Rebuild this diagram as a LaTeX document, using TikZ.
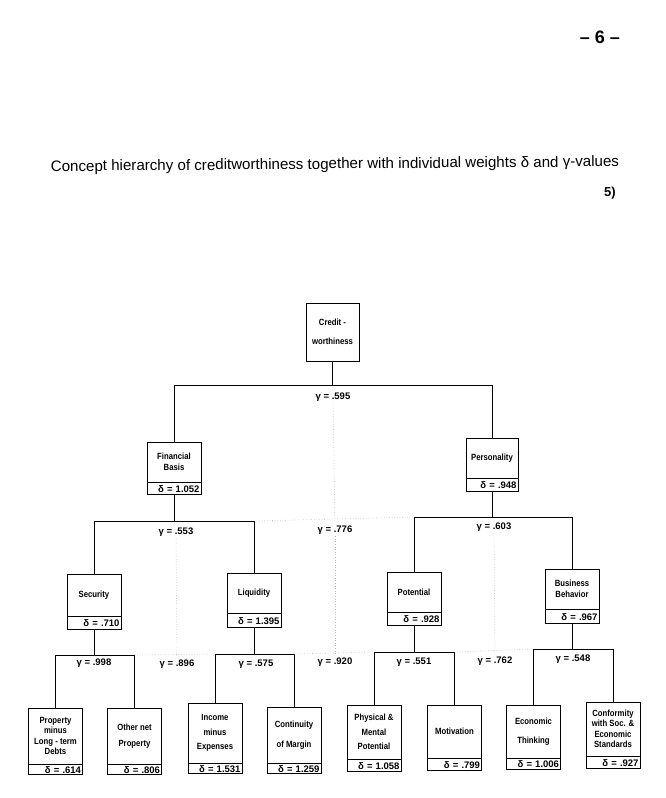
\documentclass[tikz,border=0pt]{standalone}
\usepackage{fontspec}
\setmainfont{Liberation Sans}
\newfontfamily\nodefont[FakeStretch=0.86]{Liberation Sans}
\begin{document}
\begin{tikzpicture}[x=1pt,y=-1pt,line width=0.9pt,
  box/.style={draw,line width=0.9pt,minimum width=54pt,inner sep=0pt,align=center,
    font=\nodefont\bfseries\fontsize{9}{10.5}\selectfont},
  drow/.style={draw,line width=0.9pt,minimum width=54pt,text width=51pt,inner sep=0pt,
    align=right,anchor=north,font=\bfseries\fontsize{9.5}{10}\selectfont},
  glab/.style={font=\bfseries\fontsize{9.5}{11}\selectfont,inner sep=1.5pt},
  dots/.style={draw=gray!55,dotted,line width=0.6pt}]
\useasboundingbox (0,0) rectangle (666,798);

% header texts
\node[font=\bfseries\fontsize{18}{20}\selectfont] (pg) at (600,37) {– 6 –};
\node[font=\fontsize{15.1}{18}\selectfont,rotate=0.5] (title) at (335,165)
  {Concept hierarchy of creditworthiness together with individual weights δ and γ-values};
\node[font=\bfseries\fontsize{13}{15}\selectfont] (fn) at (610,193) {5)};

% level 1
\node[box,minimum width=53pt,minimum height=58pt] (cw) at (332.5,332) {Credit -\\[8pt]worthiness};

% level 2
\node[box,minimum height=40pt] (fb) at (174,462) {Financial\\Basis};
\node[drow,minimum height=12pt] (fbd) at (fb.south) {δ = 1.052};
\node[box,minimum width=52pt,minimum height=40pt] (pe) at (492,458) {Personality};
\node[drow,minimum width=52pt,text width=49pt,minimum height=13pt] (ped) at (pe.south) {δ = .948};

% level 3
\node[box,minimum height=42pt] (sec) at (94,595) {Security};
\node[drow,minimum height=13pt] (secd) at (sec.south) {δ = .710};
\node[box,minimum height=40pt] (liq) at (254,593) {Liquidity};
\node[drow,minimum height=14pt] (liqd) at (liq.south) {δ = 1.395};
\node[box,minimum height=40pt] (pot) at (414,592) {Potential};
\node[drow,minimum height=13pt] (potd) at (pot.south) {δ = .928};
\node[box,minimum height=40pt] (bus) at (572,589) {Business\\Behavior};
\node[drow,minimum height=14pt] (busd) at (bus.south) {δ = .967};

% level 4 (leaves)
\node[box,minimum height=56pt] (pro) at (55.5,736) {Property\\minus\\Long - term\\Debts};
\node[drow,minimum height=10pt] (prod) at (pro.south) {δ = .614};
\node[box,minimum height=56pt] (oth) at (134.5,736) {Other net\\[6pt]Property};
\node[drow,minimum height=10pt] (othd) at (oth.south) {δ = .806};
\node[box,minimum height=60pt] (inc) at (215,733) {Income\\[4pt]minus\\[4pt]Expenses};
\node[drow,minimum height=10pt] (incd) at (inc.south) {δ = 1.531};
\node[box,minimum height=56pt] (con) at (294,735) {Continuity\\[9pt]of Margin};
\node[drow,minimum height=10pt] (cond) at (con.south) {δ = 1.259};
\node[box,minimum height=54pt] (phy) at (374,732) {Physical \&\\[4pt]Mental\\[4pt]Potential};
\node[drow,minimum height=12pt] (phyd) at (phy.south) {δ = 1.058};
\node[box,minimum height=53pt] (mot) at (454.5,731.5) {Motivation};
\node[drow,minimum height=12pt] (motd) at (mot.south) {δ = .799};
\node[box,minimum height=53pt] (eco) at (533.5,731.5) {Economic\\[9pt]Thinking};
\node[drow,minimum height=11pt] (ecod) at (eco.south) {δ = 1.006};
\node[box,minimum height=54pt] (cnf) at (613,729) {Conformity\\with Soc. \&\\Economic\\Standards};
\node[drow,minimum height=12pt] (cnfd) at (cnf.south) {δ = .927};

% bracket levels
\coordinate (b1) at (0,385);
\coordinate (b2) at (0,521);
\coordinate (b3) at (0,517);
\coordinate (b4) at (0,655);
\coordinate (b5) at (0,654);
\coordinate (b6) at (0,652);
\coordinate (b7) at (0,649);

% tree connectors
\draw (cw.south) -- (cw.south |- b1);
\draw (fb.north) -- (fb.north |- b1) -- (pe.north |- b1) -- (pe.north);
\draw (fbd.south) -- (fbd.south |- b2);
\draw (sec.north) -- (sec.north |- b2) -- (liq.north |- b2) -- (liq.north);
\draw (ped.south) -- (ped.south |- b3);
\draw (pot.north) -- (pot.north |- b3) -- (bus.north |- b3) -- (bus.north);
\draw (secd.south) -- (secd.south |- b4);
\draw (pro.north) -- (pro.north |- b4) -- (oth.north |- b4) -- (oth.north);
\draw (liqd.south) -- (liqd.south |- b5);
\draw (inc.north) -- (inc.north |- b5) -- (con.north |- b5) -- (con.north);
\draw (potd.south) -- (potd.south |- b6);
\draw (phy.north) -- (phy.north |- b6) -- (mot.north |- b6) -- (mot.north);
\draw (busd.south) -- (busd.south |- b7);
\draw (eco.north) -- (eco.north |- b7) -- (cnf.north |- b7) -- (cnf.north);

% gamma labels
\node[glab] (g595) at (333,397) {γ = .595};
\node[glab] (g553) at (176,532) {γ = .553};
\node[glab] (g776) at (335,530) {γ = .776};
\node[glab] (g603) at (494,527) {γ = .603};
\node[glab] (g998) at (94,663) {γ = .998};
\node[glab] (g896) at (177,664) {γ = .896};
\node[glab] (g575) at (256,664) {γ = .575};
\node[glab] (g920) at (335,662) {γ = .920};
\node[glab] (g551) at (414,662) {γ = .551};
\node[glab] (g762) at (495,661) {γ = .762};
\node[glab] (g548) at (573,659) {γ = .548};

% dotted cross links
\draw[dots] (g595) -- (g776);
\draw[dots] (g776) -- (g920);
\draw[dots] (g553) -- (g896);
\draw[dots] (g603) -- (g762);
\draw[dots] (liq.north |- b2) -- (pot.north |- b3);
\draw[dots] (oth.north |- b4) -- (inc.north |- b5);
\draw[dots] (con.north |- b5) -- (phy.north |- b6);
\draw[dots] (mot.north |- b6) -- (eco.north |- b7);
\end{tikzpicture}
\end{document}
